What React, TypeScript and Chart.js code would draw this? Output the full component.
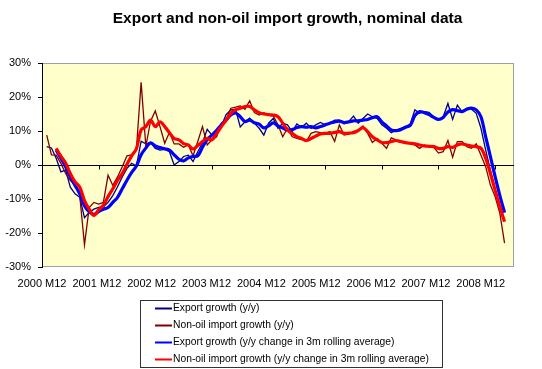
import React, { useEffect, useRef } from 'react';
import { Chart, registerables } from 'chart.js';
Chart.register(...registerables);

const FONT = "'Liberation Sans', Arial, sans-serif";

// x axis: months counted from 2000 M12 (= 0) to 2009 M04 (= 100)
const xTickLabels = ['2000 M12', '2001 M12', '2002 M12', '2003 M12', '2004 M12', '2005 M12', '2006 M12', '2007 M12', '2008 M12'];
const labelStep = 11.62; // spacing of category labels as laid out in the reference
const yearTickMonths = [12, 24, 36, 48, 60, 72, 84, 96];

const seriesNames = [
  'Export growth (y/y)',
  'Non-oil import growth (y/y)',
  'Export growth (y/y change in 3m rolling average)',
  'Non-oil import growth (y/y change in 3m rolling average)',
];

// first month index 1 (2001 M01)
const exportYoY = [
  5.4, 5.0, 2.0, -2.0, -1.5, -6.5, -8.5, -9.5, -15.5, -14.0, -13.0, -12.5,
  -12.3, -11.0, -9.0, -6.4, -3.5, -1.0, 0.5, -0.3, 7.0, 6.2, 6.6, 4.9,
  4.4, 4.6, 3.9, 0.0, 1.0, 2.5, 2.9, 1.0, 3.9, 6.5, 10.5, 8.8,
  9.3, 11.5, 14.8, 16.2, 16.4, 11.2, 12.7, 13.8, 12.3, 10.8, 8.8, 12.3,
  13.7, 10.8, 12.3, 11.8, 9.8, 12.1, 11.1, 12.3, 10.8, 11.8, 12.5, 11.8,
  12.3, 13.2, 13.2, 12.1, 12.8, 14.4, 12.3, 13.7, 15.0, 14.2, 13.7, 11.8,
  10.8, 9.5, 10.3, 10.8, 11.3, 12.0, 16.2, 15.2, 15.7, 15.5, 14.2, 13.4,
  14.2, 18.1, 13.4, 17.6, 15.7, 16.7, 16.4, 15.2, 10.8, 4.4, -1.5, -7.4,
  -12.5, -16.3,
];
const importYoY = [
  8.8, 3.0, 2.9, 0.5, -2.5, -4.5, -6.0, -9.0, -23.5, -12.5, -11.0, -11.5,
  -11.0, -3.0, -6.0, -3.5, -0.5, 2.7, 3.0, 4.6, 24.3, 5.5, 12.9, 15.9,
  11.3, 6.4, 9.6, 6.2, 6.2, 5.2, 5.9, 2.7, 6.9, 11.3, 5.9, 7.4,
  8.3, 12.3, 13.2, 16.7, 17.0, 17.4, 16.4, 18.9, 15.4, 14.7, 15.4, 14.7,
  14.4, 11.8, 8.3, 10.8, 8.3, 7.8, 7.5, 6.9, 9.3, 9.8, 9.5, 9.3,
  9.8, 6.9, 11.8, 8.8, 9.1, 9.9, 10.3, 11.5, 9.3, 6.6, 7.8, 6.4,
  4.9, 8.0, 7.4, 6.9, 6.4, 6.2, 5.9, 4.9, 5.9, 5.4, 5.2, 3.5,
  3.9, 7.2, 2.3, 6.9, 6.9, 5.4, 4.9, 6.2, 2.9, -0.5, -5.9, -9.3,
  -14.2, -23.0,
];
// first month index 3 (2001 M03)
const export3m = [
  4.4, 2.0, -0.5, -3.5, -6.0, -8.5, -12.0, -13.8, -14.5, -13.7,
  -13.0, -12.5, -11.0, -9.5, -7.0, -4.5, -2.2, -0.3, 3.0, 5.0, 6.5, 5.6,
  5.1, 4.8, 4.4, 3.0, 1.7, 1.2, 2.1, 2.5, 2.7, 5.2, 7.5, 8.8,
  10.2, 11.8, 13.2, 14.7, 15.3, 14.2, 12.8, 13.2, 12.4, 12.0, 10.9, 11.5,
  12.4, 11.5, 10.9, 10.3, 10.4, 11.0, 11.3, 11.1, 11.3, 10.9, 11.3, 11.8,
  12.3, 12.7, 12.9, 12.5, 12.7, 13.0, 13.0, 13.2, 13.4, 13.9, 14.2, 12.7,
  11.5, 10.3, 10.1, 10.4, 11.1, 11.6, 14.5, 15.7, 15.4, 14.8, 14.0, 13.4,
  14.0, 15.6, 16.3, 16.0, 15.7, 16.4, 16.7, 16.2, 14.2, 8.3, 2.5, -3.4,
  -9.0, -14.0,
];
const import3m = [
  4.9, 2.6, 0.6, -2.5, -5.0, -6.5, -10.5, -13.0, -14.8, -13.2,
  -11.8, -9.3, -7.0, -4.5, -2.5, 0.2, 2.7, 4.8, 10.3, 11.3, 13.2, 11.3,
  12.7, 11.3, 9.5, 7.8, 7.4, 6.3, 5.9, 4.7, 5.7, 6.9, 7.8, 7.4,
  9.3, 11.3, 13.2, 15.2, 16.2, 16.7, 17.2, 17.2, 16.2, 15.4, 15.0, 14.8,
  14.7, 14.2, 12.3, 10.3, 9.3, 8.3, 7.8, 7.2, 7.8, 8.5, 9.1, 9.3,
  9.3, 9.6, 9.8, 9.3, 9.4, 9.5, 10.1, 11.0, 9.8, 8.3, 7.4, 6.6,
  6.6, 6.9, 7.2, 6.9, 6.6, 6.4, 6.2, 5.9, 5.6, 5.5, 5.4, 4.9,
  4.9, 5.4, 5.2, 5.9, 6.2, 5.9, 5.6, 5.4, 4.9, 2.0, -2.5, -7.4,
  -12.3, -16.7,
];

const seriesColors = ['#000080', '#800000', '#0000FF', '#FF0000'];
const seriesWidths = [1.3, 1.3, 3.2, 3.2];

const toPoints = (arr: number[], start: number) => arr.map((v, k) => ({ x: start + k, y: v }));

export default function App() {
  const ref = useRef<HTMLCanvasElement>(null);

  useEffect(() => {
    const canvas = ref.current;
    if (!canvas) return;

    const decor = {
      id: 'decor',
      beforeDraw(chart: any) {
        const { ctx, chartArea: a } = chart;
        ctx.save();
        ctx.fillStyle = '#FFFFCC';
        ctx.fillRect(a.left, a.top, a.right - a.left, a.bottom - a.top);
        ctx.strokeStyle = '#A0A0A0';
        ctx.lineWidth = 1;
        ctx.strokeRect(a.left + 0.5, a.top + 0.5, a.right - a.left - 1, a.bottom - a.top - 1);
        ctx.restore();
      },
      beforeDatasetsDraw(chart: any) {
        const { ctx, chartArea: a, scales } = chart;
        const y0 = Math.round(scales.y.getPixelForValue(0)) + 0.5;
        ctx.save();
        ctx.strokeStyle = '#000';
        ctx.lineWidth = 1;
        ctx.beginPath();
        ctx.moveTo(a.left, y0);
        ctx.lineTo(a.right, y0);
        yearTickMonths.forEach((m) => {
          const x = Math.round(scales.x.getPixelForValue(m)) + 0.5;
          ctx.moveTo(x, y0);
          ctx.lineTo(x, y0 + 4);
        });
        ctx.stroke();
        ctx.restore();
      },
      afterDraw(chart: any) {
        const { ctx } = chart;
        ctx.save();
        ctx.fillStyle = '#000';
        ctx.font = `bold 15.5px ${FONT}`;
        ctx.textAlign = 'center';
        ctx.textBaseline = 'middle';
        ctx.fillText('Export and non-oil import growth, nominal data', 287.5, 18.5);

        // legend box
        const bx = 140, by = 300, bw = 302, bh = 67;
        ctx.strokeStyle = '#333';
        ctx.lineWidth = 1;
        ctx.strokeRect(bx + 0.5, by + 0.5, bw, bh);
        ctx.font = `10.3px ${FONT}`;
        ctx.textAlign = 'left';
        chart.data.datasets.forEach((ds: any, i: number) => {
          const ry = 308.5 + i * 17;
          ctx.strokeStyle = ds.borderColor;
          ctx.lineWidth = 2;
          ctx.beginPath();
          ctx.moveTo(155, ry);
          ctx.lineTo(172, ry);
          ctx.stroke();
          ctx.fillStyle = '#000';
          ctx.fillText(ds.label, 173, ry);
        });
        ctx.restore();
      },
    };

    const sources = [toPoints(exportYoY, 1), toPoints(importYoY, 1), toPoints(export3m, 3), toPoints(import3m, 3)];
    const orders = [3, 2, 1, 0];

    const chart = new Chart(canvas, {
      type: 'line',
      data: {
        datasets: sources.map((pts, i) => ({
          label: seriesNames[i],
          data: pts,
          borderColor: seriesColors[i],
          backgroundColor: seriesColors[i],
          borderWidth: seriesWidths[i],
          pointRadius: 0,
          fill: false,
          tension: i >= 2 ? 0.35 : 0,
          order: orders[i],
        })),
      },
      options: {
        responsive: false,
        animation: false,
        layout: { padding: { top: 63, right: 28, bottom: 72, left: 0 } },
        plugins: { legend: { display: false }, title: { display: false }, tooltip: { enabled: false } },
        scales: {
          x: {
            type: 'linear',
            min: 0,
            max: 100,
            grid: { display: false, drawTicks: false },
            border: { display: false },
            afterBuildTicks: (scale: any) => {
              scale.ticks = xTickLabels.map((_, k) => ({ value: k * labelStep }));
            },
            afterFit: (scale: any) => {
              scale.height = 30;
            },
            ticks: {
              autoSkip: false,
              maxRotation: 0,
              padding: 10,
              color: '#000',
              font: { family: FONT, size: 11 },
              callback: (_v: any, idx: number) => xTickLabels[idx],
            },
          },
          y: {
            min: -30,
            max: 30,
            grid: { display: true, drawOnChartArea: false, drawTicks: true, tickLength: 4, color: '#000' },
            border: { display: true, color: '#000' },
            afterFit: (scale: any) => {
              scale.width = 42;
            },
            ticks: {
              stepSize: 10,
              padding: 7,
              color: '#000',
              font: { family: FONT, size: 11 },
              callback: (v: any) => `${v}%`,
            },
          },
        },
      },
      plugins: [decor],
    });

    return () => chart.destroy();
  }, []);

  return (
    <div style={{ position: 'fixed', left: 0, top: 0, width: 542, height: 369, background: '#fff' }}>
      <canvas ref={ref} width={542} height={369} style={{ display: 'block' }} />
    </div>
  );
}
